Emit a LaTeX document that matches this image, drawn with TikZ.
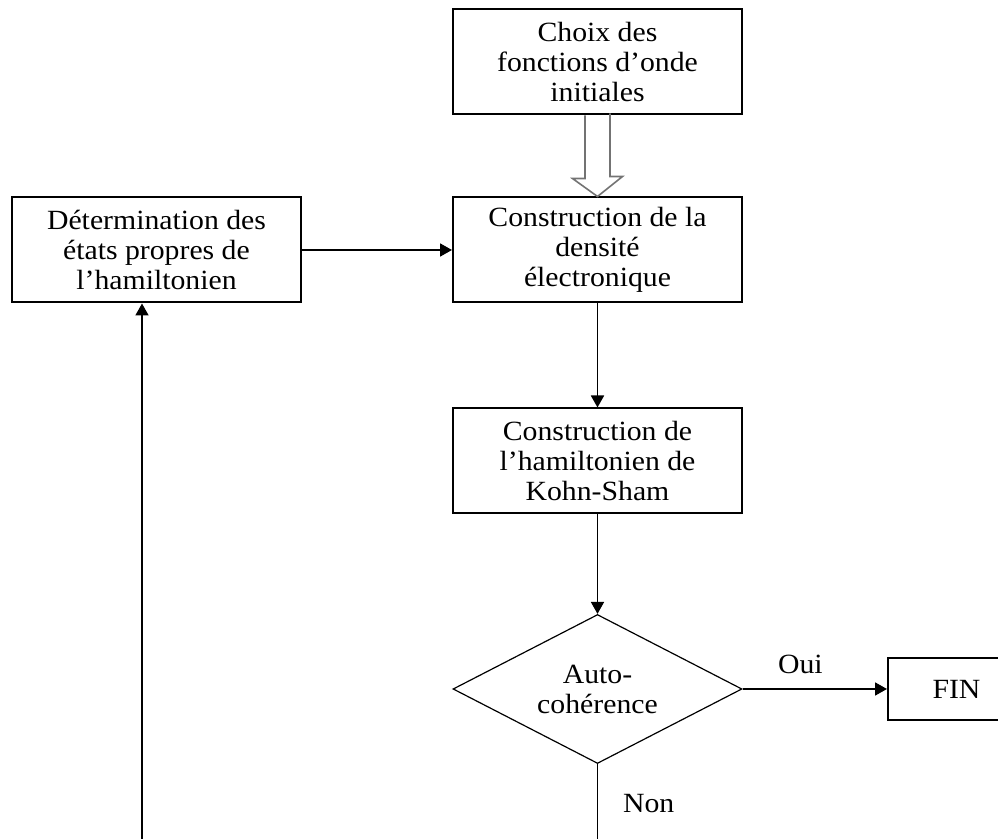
\documentclass[tikz,border=0pt]{standalone}
\usepackage{fontspec}
\setmainfont[FakeStretch=1.07]{Liberation Serif}
\usetikzlibrary{shapes.geometric,arrows.meta}

\begin{document}
\begin{tikzpicture}[x=0.5pt,y=-0.5pt,
    texte/.style={font=\fontsize{13.9pt}{15pt}\selectfont},
    boite/.style={draw,line width=1pt,texte,align=center,minimum width=144.5pt,minimum height=52.5pt,inner sep=2pt},
    losange/.style={draw,diamond,aspect=2,line width=0.6pt,texte,align=center,minimum width=144.5pt,minimum height=74.5pt,inner sep=0pt},
    fleche/.style={line width=0.9pt,-{Triangle[length=6pt,width=6.5pt]}}]
    % 画布范围
    \useasboundingbox (0,0) rectangle (998,839);
    \clip (0,0) rectangle (998,839);

    % 绘制各个步骤
    \node[boite] (choix) at (597.5,62) {Choix des\\fonctions d’onde\\initiales};
    \node[boite] (dens) at (597.5,250) {Construction de la\\densité\\électronique};
    \node[boite] (determ) at (156.5,250) {Détermination des\\états propres de\\l’hamiltonien};
    \node[boite] (kohn) at (597.5,461) {Construction de\\l’hamiltonien de\\Kohn-Sham};
    \node[losange] (auto) at (597.5,689) {Auto-\\cohérence};
    \node[boite,anchor=west,minimum height=31pt,inner xsep=15pt,text width=100pt,align=left] (fin) at (887,689) {FIN};

    % 绘制空心箭头
    \draw[line width=0.8pt,black!55] (choix.south) ++(-12.5,0) -- ++(0,63) -- ++(-12.5,0) -- (dens.north)
        -- ++(25,-20) -- ++(-12.5,0) -- ++(0,-63);

    % 绘制连接线
    \draw[fleche] (determ.east) -- (dens.west);
    \draw[fleche] (dens.south) -- (kohn.north);
    \draw[fleche] (kohn.south) -- (auto.north);
    \draw[fleche] (auto.east) -- node[texte,pos=0.4,above,yshift=4pt] (oui) {Oui} (fin.west);

    % 绘制返回的回路
    \coordinate (bas) at (597.5,900);
    \coordinate (coin) at (142,900);
    \node[texte,anchor=base west] (non) at (616,813) {Non};
    \draw[fleche] (auto.south) -- (bas) -- (coin) -- (coin |- determ.south);

\end{tikzpicture}
\end{document}
